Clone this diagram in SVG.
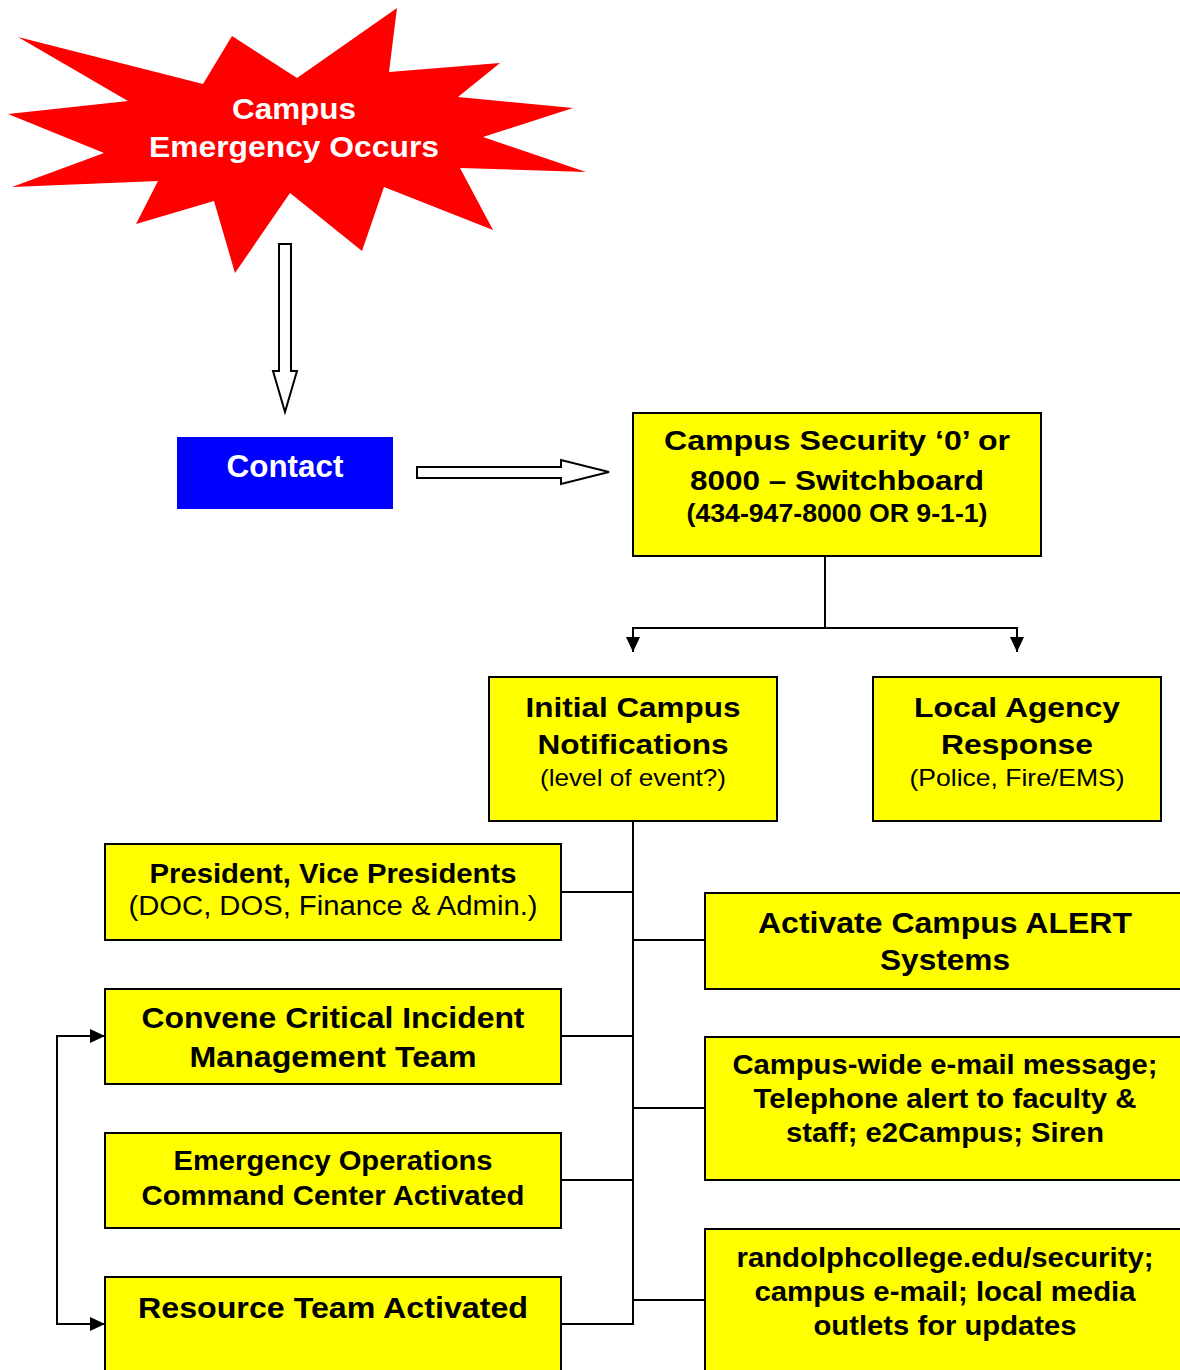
<svg xmlns="http://www.w3.org/2000/svg" width="1180" height="1370" viewBox="0 0 1180 1370">
<style>
.box{fill:#FFFF00;stroke:#000;stroke-width:2}
.t{font-family:"Liberation Sans",Arial,Helvetica,sans-serif;text-anchor:middle;fill:#000}
.b{font-weight:bold}
.w{fill:#fff}
.ln{fill:none;stroke:#000;stroke-width:2}
.blk{fill:#fff;stroke:#000;stroke-width:2;stroke-linejoin:miter}
</style>
<defs>
<marker id="ah" viewBox="0 0 15 14" refX="15" refY="7" markerWidth="15" markerHeight="14" orient="auto" markerUnits="userSpaceOnUse">
<path d="M0,0 L15,7 L0,14 z" fill="#000"/>
</marker>
</defs>
<rect width="1180" height="1370" fill="#fff"/>

<g id="node-emergency">
<polygon points="18,37 128,101 8,114 104,153 12,187 158,181 136,224 214,201 235,273 290,193 362,251 384,187 493,230 460,168 586,172 483,137 573,108 458,97 500,63 389,72 397,8 297,78 232,36 203,84" fill="#FF0000"/>
<text class="t b w" x="294" y="119" font-size="30" textLength="124" lengthAdjust="spacingAndGlyphs">Campus</text>
<text class="t b w" x="294" y="157" font-size="30" textLength="290" lengthAdjust="spacingAndGlyphs">Emergency Occurs</text>
</g>

<g id="node-contact">
<rect x="177" y="437" width="216" height="72" fill="#0000FF"/>
<text class="t b w" x="285" y="477" font-size="31" textLength="117" lengthAdjust="spacingAndGlyphs">Contact</text>
</g>

<g id="node-security">
<rect class="box" x="633" y="413" width="408" height="143"/>
<text class="t b" x="837" y="450" font-size="28" textLength="346" lengthAdjust="spacingAndGlyphs">Campus Security ‘0’ or</text>
<text class="t b" x="837" y="490" font-size="28" textLength="294" lengthAdjust="spacingAndGlyphs">8000 – Switchboard</text>
<text class="t b" x="837" y="522" font-size="25" textLength="301" lengthAdjust="spacingAndGlyphs">(434-947-8000 OR 9-1-1)</text>
</g>

<g id="node-initial">
<rect class="box" x="489" y="677" width="288" height="144"/>
<text class="t b" x="633" y="717" font-size="28" textLength="215" lengthAdjust="spacingAndGlyphs">Initial Campus</text>
<text class="t b" x="633" y="754" font-size="28" textLength="191" lengthAdjust="spacingAndGlyphs">Notifications</text>
<text class="t" x="633" y="786" font-size="24" textLength="186" lengthAdjust="spacingAndGlyphs">(level of event?)</text>
</g>

<g id="node-local">
<rect class="box" x="873" y="677" width="288" height="144"/>
<text class="t b" x="1017" y="717" font-size="28" textLength="206" lengthAdjust="spacingAndGlyphs">Local Agency</text>
<text class="t b" x="1017" y="754" font-size="28" textLength="152" lengthAdjust="spacingAndGlyphs">Response</text>
<text class="t" x="1017" y="786" font-size="24" textLength="215" lengthAdjust="spacingAndGlyphs">(Police, Fire/EMS)</text>
</g>

<g id="node-president">
<rect class="box" x="105" y="844" width="456" height="96"/>
<text class="t b" x="333" y="883" font-size="27" textLength="367" lengthAdjust="spacingAndGlyphs">President, Vice Presidents</text>
<text class="t" x="333" y="915" font-size="27" textLength="409" lengthAdjust="spacingAndGlyphs">(DOC, DOS, Finance &amp; Admin.)</text>
</g>

<g id="node-convene">
<rect class="box" x="105" y="989" width="456" height="95"/>
<text class="t b" x="333" y="1028" font-size="30" textLength="383" lengthAdjust="spacingAndGlyphs">Convene Critical Incident</text>
<text class="t b" x="333" y="1067" font-size="30" textLength="287" lengthAdjust="spacingAndGlyphs">Management Team</text>
</g>

<g id="node-eoc">
<rect class="box" x="105" y="1133" width="456" height="95"/>
<text class="t b" x="333" y="1170" font-size="27" textLength="319" lengthAdjust="spacingAndGlyphs">Emergency Operations</text>
<text class="t b" x="333" y="1205" font-size="27" textLength="383" lengthAdjust="spacingAndGlyphs">Command Center Activated</text>
</g>

<g id="node-resource">
<rect class="box" x="105" y="1277" width="456" height="110"/>
<text class="t b" x="333" y="1318" font-size="30" textLength="390" lengthAdjust="spacingAndGlyphs">Resource Team Activated</text>
</g>

<g id="node-alert">
<rect class="box" x="705" y="893" width="490" height="96"/>
<text class="t b" x="945" y="933" font-size="30" textLength="374" lengthAdjust="spacingAndGlyphs">Activate Campus ALERT</text>
<text class="t b" x="945" y="970" font-size="30" textLength="130" lengthAdjust="spacingAndGlyphs">Systems</text>
</g>

<g id="node-email">
<rect class="box" x="705" y="1037" width="490" height="143"/>
<text class="t b" x="945" y="1074" font-size="27" textLength="425" lengthAdjust="spacingAndGlyphs">Campus-wide e-mail message;</text>
<text class="t b" x="945" y="1108" font-size="27" textLength="383" lengthAdjust="spacingAndGlyphs">Telephone alert to faculty &amp;</text>
<text class="t b" x="945" y="1142" font-size="27" textLength="318" lengthAdjust="spacingAndGlyphs">staff; e2Campus; Siren</text>
</g>

<g id="node-web">
<rect class="box" x="705" y="1229" width="490" height="160"/>
<text class="t b" x="945" y="1267" font-size="27" textLength="417" lengthAdjust="spacingAndGlyphs">randolphcollege.edu/security;</text>
<text class="t b" x="945" y="1301" font-size="27" textLength="381" lengthAdjust="spacingAndGlyphs">campus e-mail; local media</text>
<text class="t b" x="945" y="1335" font-size="27" textLength="263" lengthAdjust="spacingAndGlyphs">outlets for updates</text>
</g>

<g id="connectors">
<polygon class="blk" points="279,244 291,244 291,371 297,371 285,412 273,371 279,371"/>
<polygon class="blk" points="417,467 561,467 561,460 609,472 561,484 561,478 417,478"/>
<path class="ln" d="M825,556 V628 M633,628 H1017"/>
<path class="ln" d="M633,627 V652" marker-end="url(#ah)"/>
<path class="ln" d="M1017,627 V652" marker-end="url(#ah)"/>
<path class="ln" d="M633,821 V1325"/>
<path class="ln" d="M561,892 H634 M561,1036 H634 M561,1180 H634 M561,1324 H634"/>
<path class="ln" d="M632,940 H705 M632,1108 H705 M632,1300 H705"/>
<path class="ln" d="M57,1180 V1036 H105" marker-end="url(#ah)"/>
<path class="ln" d="M57,1180 V1324 H105" marker-end="url(#ah)"/>
</g>
</svg>
